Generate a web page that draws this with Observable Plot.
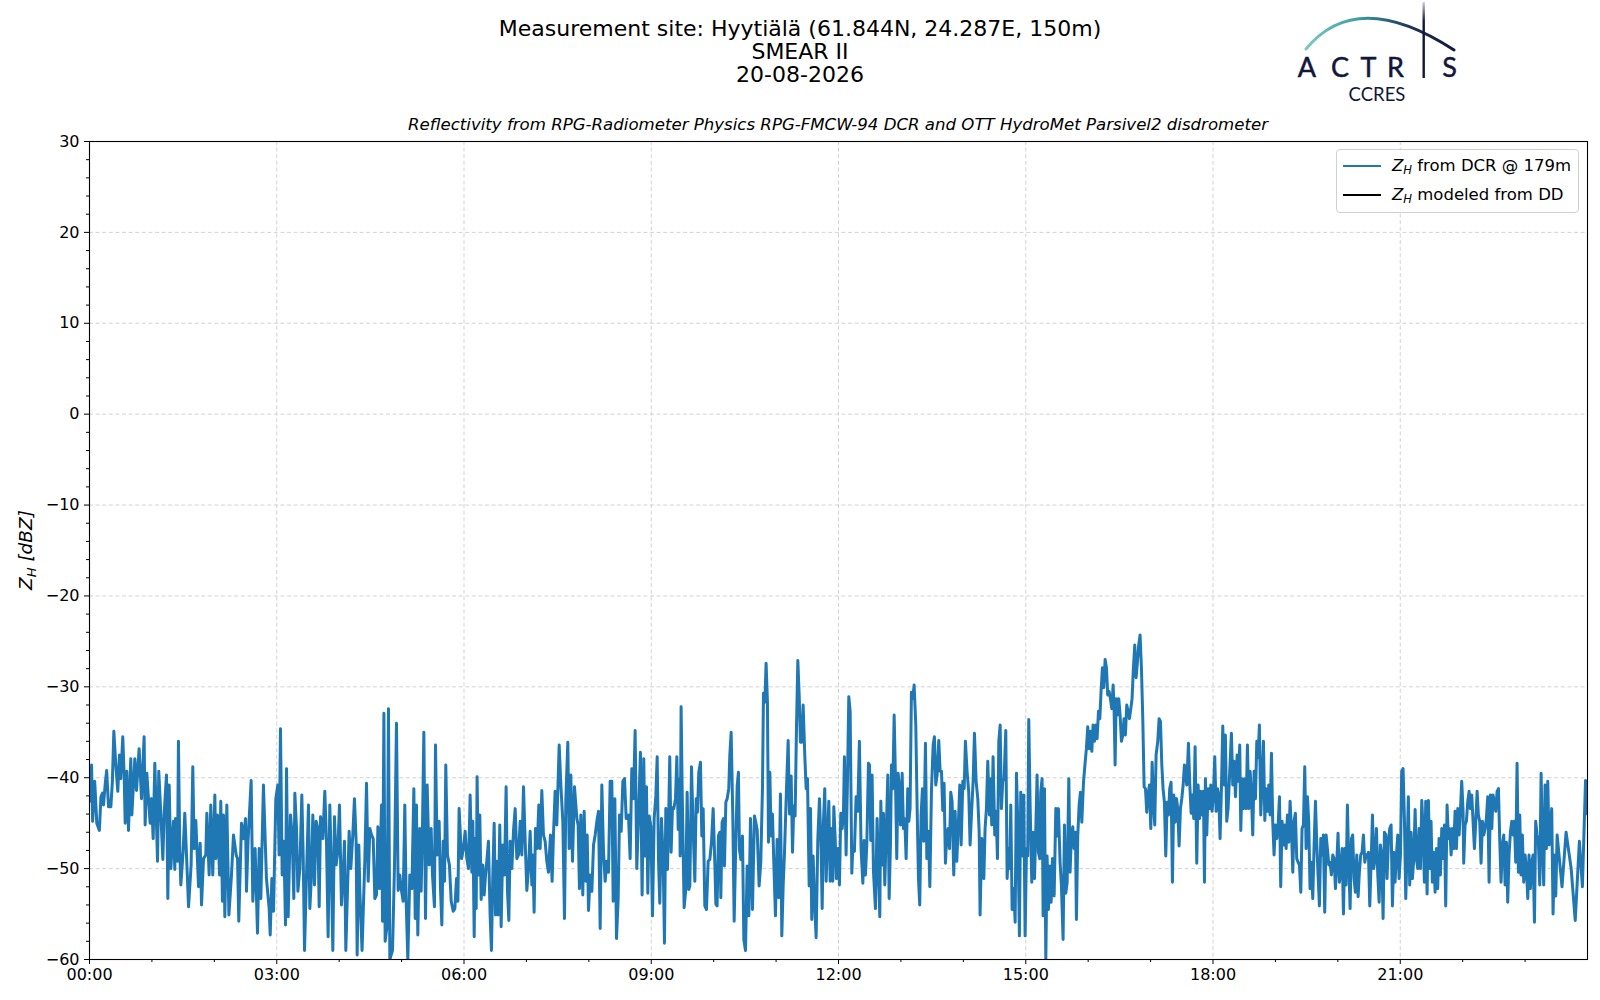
<!DOCTYPE html>
<html><head><meta charset="utf-8">
<script src="https://cdn.jsdelivr.net/npm/d3@7"></script>
<script src="https://cdn.jsdelivr.net/npm/@observablehq/plot@0.6"></script>
<style>
body{margin:0;background:#fff;font-family:"DejaVu Sans",sans-serif;color:#000;}
#wrap{position:relative;width:1600px;height:1000px;overflow:hidden;}
#wrap > svg.plot{position:absolute;left:0;top:0;}
#title{position:absolute;left:0;width:1600px;top:17px;text-align:center;font-size:22px;line-height:23px;}
#subtitle{position:absolute;left:89px;width:1498px;top:115px;text-align:center;font-size:16.6px;font-style:italic;line-height:20px;}
#legend{position:absolute;left:1336px;top:149px;width:241px;height:62px;border:1px solid #d0d0d0;border-radius:4px;background:rgba(255,255,255,0.85);font-size:16.5px;}
#legend .row{position:absolute;left:0;height:22px;line-height:22px;white-space:nowrap;}
#legend .swatch{position:absolute;left:6px;top:10px;width:38px;height:0;border-top:2.8px solid;}
#legend .lab{position:absolute;left:55px;top:0;}
sub{font-size:70%;vertical-align:-0.25em;line-height:0;}
#overlay{position:absolute;left:0;top:0;pointer-events:none;}
</style></head><body><div id="wrap"></div>
<script>
// Title texts
const titleLines = ["Measurement site: Hyytiälä (61.844N, 24.287E, 150m)", "SMEAR II", "20-08-2026"];
const subtitleText = "Reflectivity from RPG-Radiometer Physics RPG-FMCW-94 DCR and OTT HydroMet Parsivel2 disdrometer";
const legendLabels = ["from DCR @ 179m", "modeled from DD"];
const legendColors = ["#1f77b4", "#000000"];
// Axis ticks
const xTickLabels = ["00:00","03:00","06:00","09:00","12:00","15:00","18:00","21:00"];
const yTicks = [-60,-50,-40,-30,-20,-10,0,10,20,30];
// Z_H from DCR @ 179m : [minutes since 00:00, dBZ]
const dcrSamples = [
[0,-42.6],[2,-38.6],[3,-44.8],[5,-40.4],[7,-45.0],[9.5,-45.8],[11,-42.1],[12.5,-41.7],[13.5,-43.0],[15,-40.8],[16.5,-39.2],[18.3,-43.2],[20.5,-43.2],[22,-40.4],[23.4,-34.9],[25.3,-38.6],[27.2,-41.5],[28.8,-37.5],[30,-40.1],[32,-35.5],[33.3,-39.7],[34.3,-45.0],[35.9,-39.3],[37.5,-45.8],[39.7,-37.9],[40.7,-44.1],[43.6,-37.9],[45.2,-41.4],[47.7,-36.8],[50,-42.3],[52.5,-35.5],[53.5,-45.2],[55.1,-39.5],[56.7,-42.3],[58.3,-45.0],[59.6,-42.3],[61.2,-46.7],[62.8,-38.4],[64.1,-43.9],[65.4,-49.2],[66.6,-39.3],[68.6,-44.1],[70.5,-49.0],[71.8,-43.9],[74,-39.7],[75.3,-53.3],[76.6,-40.8],[78.2,-50.0],[80.7,-44.8],[82,-50.1],[82.7,-44.5],[84.6,-49.2],[85.5,-36.0],[86.8,-48.1],[87.8,-51.8],[90,-48.1],[91.6,-43.9],[93.5,-49.2],[95.2,-54.2],[97.7,-49.6],[99.3,-38.8],[100.6,-47.8],[102.2,-44.7],[104.8,-52.0],[106.4,-47.2],[107.7,-54.0],[109.6,-48.9],[111.8,-48.5],[112.8,-43.9],[115,-50.7],[116.6,-43.0],[118.5,-50.7],[120.5,-41.9],[121.4,-48.9],[123,-44.1],[125,-50.7],[126.2,-42.6],[127.8,-53.6],[128.8,-44.1],[130.1,-55.3],[132,-43.0],[134,-55.1],[136.5,-50.7],[138.4,-46.3],[141,-48.5],[142.3,-48.9],[143.5,-55.8],[146.1,-45.0],[148,-46.7],[150,-44.5],[150.9,-52.5],[152.5,-46.7],[155.4,-40.3],[157,-53.6],[159.2,-47.8],[161.5,-57.1],[163.1,-47.8],[164.7,-53.3],[167.2,-40.8],[170.1,-51.1],[172.7,-54.4],[173.7,-57.3],[175.3,-51.1],[176.9,-54.7],[179.1,-42.3],
[181,-40.8],[182.3,-48.5],[183.6,-34.6],[185.2,-50.7],[186.8,-47.0],[188.4,-56.2],[189.4,-39.0],[191,-55.3],[193.2,-44.1],[194.8,-46.3],[196.4,-53.3],[197.4,-41.7],[199,-45.6],[200.3,-52.5],[202.2,-50.0],[204.1,-41.9],[205.4,-48.5],[206.7,-59],[208.6,-50.7],[210.5,-43.0],[211.8,-54.4],[213.1,-51.4],[214.7,-44.1],[216.3,-51.8],[217.9,-44.8],[219.5,-45.6],[220.8,-54.2],[222.1,-44.3],[224.3,-46.7],[226.2,-41.5],[227.8,-47.0],[229.4,-57.5],[231,-43.0],[232.3,-48.9],[233.9,-59],[235.5,-44.3],[237.1,-49.6],[238.7,-48.1],[240.3,-43.0],[242.2,-54.0],[243.8,-50.7],[245.1,-47.0],[246.4,-59],[249.6,-45.9],[251.2,-50.0],[253.1,-46.3],[254.7,-42.3],[256.3,-47.0],[257.3,-59.5],[258.9,-47.4],[259.9,-52.5],[262,-59],[264.7,-48.9],[266.3,-40.6],[267.9,-51.4],[269.5,-45.6],[271.1,-46.3],[272.7,-46.7],[274.3,-53.3],[275.9,-52.9],[277.2,-45.4],[278.8,-52.2],[280.7,-43.0],[281.7,-55.8],[283,-32.9],[284.2,-58],[286.1,-56.2],[287.4,-32.4],[288.7,-60],[291.3,-59],[293.2,-49.6],[295.1,-34.0],[296.7,-52.4],[298.3,-50.7],[299.6,-52.2],[301.5,-53.6],[303.1,-43.0],[304.4,-53.6],[306,-60],[307.9,-50.7],[309.9,-52.2],[311.8,-41.2],[313.1,-55.5],[314.3,-43.0],[315.6,-57.3],[317.5,-45.6],[318.8,-52.5],[320.1,-45.2],[321.4,-35.0],[323,-55.5],[324.6,-40.8],[326.5,-49.6],[328.4,-45.6],[329.7,-50.7],[331.6,-54.2],[332.6,-36.4],[334.2,-48.5],[336.1,-44.8],[337.4,-52.2],[338.7,-56.2],[340,-47.0],[341.3,-51.4],[342.5,-38.6],[344.1,-48.5],[346,-49.6],[347.7,-53.6],[349.6,-54.7],[351.2,-54.4],[352.8,-51.1],[354.1,-53.6],[355.3,-43.4],
[357.6,-48.9],[359.5,-47.8],[361.1,-45.9],[362.7,-48.9],[364.3,-50.0],[365.9,-41.9],[367.5,-50.4],[368.5,-44.8],[369.8,-57.5],[370.7,-46.7],[371.7,-54.4],[372.6,-39.9],[373.9,-50.7],[375.2,-44.1],[376.5,-53.4],[378.1,-49.6],[379.4,-52.9],[380.7,-50.7],[381.9,-49.2],[383.5,-47.0],[385.1,-55.1],[386.4,-59],[387.7,-50.7],[389,-45.0],[390.3,-55.1],[391.6,-49.2],[392.8,-55.1],[394.4,-45.2],[395.7,-56.4],[397.3,-47.4],[398.9,-50.7],[400.5,-41.0],[401.8,-52.5],[403.1,-55.7],[404.4,-47.0],[406,-50.0],[407.6,-45.8],[409.2,-43.4],[410.8,-48.9],[412.4,-48.5],[414,-44.8],[415.6,-48.5],[417.2,-41.0],[418.8,-47.0],[420.4,-52.4],[422,-50.0],[423.6,-45.9],[425.2,-51.8],[426.2,-48.5],[427.4,-54.8],[428.7,-45.6],[430.3,-47.8],[431.9,-43.0],[433.2,-47.8],[434.8,-41.4],[436.4,-46.3],[438,-47.0],[439.6,-49.2],[441.2,-50.4],[443.1,-46.3],[444.7,-51.4],[446,-46.3],[447.6,-41.5],[449.2,-45.2],[451.5,-36.4],[453.1,-40.8],[455,-44.8],[456.6,-55.5],[457.9,-42.3],[459.8,-36.1],[461.1,-47.8],[462.7,-39.7],[464.3,-49.2],[466.2,-41.0],[468.5,-44.5],[469.7,-45.2],[471,-52.2],[472.3,-44.1],[474.2,-52.9],[475.5,-43.7],[477.1,-51.4],[478.4,-46.3],[479.7,-54.6],[481.3,-50.7],[482.9,-52.5],[484.5,-47.4],[486.1,-46.3],[487.7,-44.8],[489.3,-43.7],[490.9,-56.6],[492.5,-40.8],[494.1,-48.1],[495.7,-51.4],[497.3,-49.2],[498.9,-50.4],[500.5,-40.4],[502.1,-40.4],[503.4,-53.6],[505,-42.3],[506.6,-57.7],[508.2,-53.3],[509.5,-44.1],[511.1,-45.9],[512.7,-40.4],[514.3,-40.1],[515.9,-44.5],[518.1,-44.1],[519.7,-48.9],[521.3,-39.0],[522.9,-42.3],[524.5,-34.8],[526.1,-50.0],[528,-43.4],[529.6,-37.2],[531.2,-52.9],
[532.8,-37.9],[534.1,-48.6],[535.4,-41.0],[536.7,-52.7],[538,-44.2],[539.6,-45.3],[541.2,-55.2],[542.8,-44.5],[544.4,-42.0],[545.7,-37.7],[547,-49.2],[548.2,-53.8],[549.8,-44.5],[551.4,-48.6],[552.7,-58.2],[554,-43.4],[555.6,-50.1],[556.9,-43.4],[557.8,-37.7],[559.1,-48.2],[560.4,-43.3],[561.7,-43.4],[563.3,-42.3],[564.6,-37.7],[565.9,-45.7],[567.1,-40.1],[567.8,-48.6],[568.7,-32.2],[569.7,-41.2],[571.6,-54.3],[573.2,-52.3],[574.5,-41.6],[576.1,-52.3],[577.1,-51.9],[578.7,-38.8],[580.3,-45.7],[581.9,-51.4],[583.2,-42.3],[584.4,-43.8],[585.7,-39.4],[587.3,-38.3],[588.6,-46.4],[589.9,-43.4],[591.5,-54.1],[593.1,-54.5],[594.7,-49.2],[596.3,-49.0],[597.9,-47.1],[599.5,-43.4],[601.1,-49.3],[602.1,-53.9],[603.3,-54.1],[604.6,-46.4],[605.9,-46.0],[606.9,-53.2],[608.1,-44.9],[609.4,-44.5],[610.4,-49.7],[611.7,-42.7],[613,-42.3],[614.5,-41.2],[615.5,-37.6],[616.8,-35.0],[618.4,-44.2],[619.7,-55.8],[621.3,-47.1],[622.6,-40.9],[623.8,-39.4],[624.8,-47.9],[626.1,-49.0],[627.7,-46.4],[629,-57.8],[630.6,-59],[632.2,-49.7],[633.8,-55.2],[635.4,-44.5],[637.3,-54.5],[639.2,-44.2],[640.5,-44.9],[641.8,-45.7],[643.7,-51.9],[645.3,-49.3],[646.9,-41.2],[647.9,-30.7],[649.2,-31.7],[650.4,-27.4],[651.7,-31.7],[652.7,-47.1],[654,-39.4],[655.2,-46.4],[656.5,-44.0],[657.8,-49.3],[659.4,-55.2],[661,-46.8],[662.6,-53.2],[664.2,-41.8],[665.5,-57.4],[666.8,-51.9],[668.1,-48.2],[670,-41.2],[671.6,-35.9],[672.9,-44.0],[674.5,-39.8],[675.8,-48.2],[677,-43.1],[678.3,-44.2],[679.6,-34.6],[680.9,-27.1],[682.2,-30.9],[683.4,-36.1],[684.7,-36.1],[686,-32.0],[687.6,-37.6],[688.9,-41.2],[690.2,-40.1],[691.8,-51.9],[693.1,-43.4],[694.3,-55.6],[695.6,-48.6],[696.9,-53.4],[698.5,-57.6],[700.1,-46.8],
[701.7,-42.3],[703.3,-47.8],[704.3,-54.4],[705.5,-45.0],[706.8,-41.2],[708.1,-51.4],[709.4,-46.7],[710.7,-42.6],[712,-51.4],[713.2,-45.6],[714.5,-51.4],[715.5,-43.2],[716.8,-46.7],[718,-51.1],[719.6,-47.8],[720.9,-51.8],[722.2,-43.9],[723.5,-45.6],[724.8,-43.7],[725.7,-37.7],[727.3,-48.5],[728.6,-40.4],[729.9,-31.1],[731.2,-32.7],[732.8,-50.5],[733.7,-47.8],[735.3,-48.1],[736.9,-42.1],[738.5,-43.7],[740.1,-36.0],[741.7,-47.8],[743.4,-51.6],[744.6,-46.9],[745.9,-50.7],[747.2,-47.4],[748.8,-38.4],[749.8,-38.6],[751,-46.9],[752.3,-39.7],[753.6,-50.3],[755.5,-54.4],[757.1,-44.5],[758.4,-50.0],[759.7,-55.3],[760.7,-42.6],[761.9,-49.6],[763.2,-43.9],[764.5,-51.8],[765.8,-46.3],[767.4,-39.7],[768.7,-53.3],[770,-47.0],[770.9,-38.6],[772.2,-41.2],[773.5,-33.1],[774.8,-40.4],[776,-48.9],[777.3,-39.5],[778.6,-41.2],[779.6,-45.2],[781.2,-39.5],[782.4,-45.6],[783.7,-44.5],[785,-48.9],[786.6,-41.2],[787.6,-44.8],[788.8,-43.4],[790.1,-30.6],[791.4,-31.3],[792.7,-29.8],[794.3,-34.2],[795.6,-43.4],[796.9,-51.2],[798.1,-54.0],[799.4,-44.1],[800.7,-41.2],[802,-47.0],[803.6,-36.2],[804.9,-48.9],[806.5,-45.9],[807.8,-52.0],[809.4,-41.2],[811,-36.4],[812.2,-35.5],[813.5,-40.8],[814.8,-39.7],[816.4,-35.9],[817.7,-39.3],[819,-39.3],[820.2,-43.6],[821.5,-40.6],[822.8,-49.4],[824.1,-46.3],[825.4,-45.6],[826.7,-47.8],[827.9,-41.6],[829.2,-42.6],[830.8,-50.7],[832.1,-43.7],[833.7,-49.2],[835.3,-44.8],[836.6,-40.8],[837.9,-47.4],[839.5,-40.4],[840.8,-41.2],[842,-36.0],[843.6,-39.3],[845.2,-41.6],[846.5,-47.4],[847.8,-44.1],[849.4,-40.4],[850.7,-35.1],[852.3,-40.4],[853.9,-42.3],[855.2,-45.9],[856.1,-55.1],[857.7,-46.7],[859.7,-51.1],[860.9,-45.6],[862.2,-43.4],[863.5,-38.2],[865.1,-44.1],[866.4,-40.1],[867.3,-45.2],[868.6,-37.7],[870.2,-46.3],[871.5,-43.7],[872.8,-48.9],[874.1,-36.0],[875.4,-34.2],[876.6,-43.4],[877.9,-40.4],
[879.2,-40.1],[880.8,-34.8],[882.1,-51.1],[883.4,-47.8],[884.6,-50.0],[885.6,-43.0],[886.9,-54.5],[888.5,-52.2],[889.8,-55.9],[891.1,-39.5],[892.3,-44.9],[893.9,-57.4],[895.2,-41.6],[896.8,-48.6],[898.1,-41.9],[899.4,-57.4],[900.7,-47.8],[901.9,-48.6],[902.9,-33.6],[904.2,-43.0],[905.8,-51.5],[907.1,-46.0],[908.4,-51.1],[909.6,-46.0],[910.9,-39.7],[912.2,-48.2],[913.5,-48.9],[914.4,-41.6],[915.7,-40.1],[916.7,-55.2],[918,-41.2],[919.3,-60],[920.5,-48.6],[921.8,-54.5],[923.1,-49.7],[924.4,-53.7],[925.7,-48.9],[927.3,-53.0],[928.9,-43.4],[930.1,-46.4],[931.4,-43.4],[933,-49.3],[934.3,-51.9],[935.9,-57.8],[937.2,-45.2],[938.5,-52.7],[939.8,-51.5],[941.4,-40.1],[942.6,-50.4],[943.9,-46.4],[945.2,-45.4],[946.5,-47.8],[947.8,-46.0],[948.7,-55.6],[950,-46.4],[951.3,-43.0],[952.6,-41.6],[953.9,-44.9],[955.5,-40.5],[957.1,-38.3],[958.3,-36.8],[959.6,-34.4],[960.9,-36.8],[962.2,-34.9],[963.5,-37.1],[964.7,-34.2],[966,-36.0],[967.3,-34.2],[968.6,-35.7],[969.9,-32.7],[971.2,-33.5],[972.4,-30.5],[973.7,-27.9],[975,-30.1],[976.3,-27.0],[977.6,-27.9],[978.8,-30.9],[980.1,-30.5],[981.4,-31.3],[982.7,-32.4],[984,-29.8],[984.9,-32.4],[985.9,-38.6],[986.9,-31.3],[988.1,-33.1],[989.4,-31.3],[990.7,-33.1],[992,-36.0],[993.3,-35.3],[994.5,-33.5],[995.8,-35.3],[997.1,-32.0],[998.4,-32.7],[999.7,-33.5],[1001,-32.4],[1002.2,-31.3],[1003.5,-27.9],[1004.8,-25.4],[1006.1,-29.0],[1007.4,-27.2],[1008.6,-25.4],[1009.9,-24.3],[1011.2,-27.9],[1012.5,-33.5],[1013.8,-41.0],[1015.1,-41.2],[1016.3,-43.8],[1017.6,-41.9],[1018.9,-40.8],[1020.2,-45.6],[1021.5,-38.3],[1022.7,-42.7],[1024,-45.2],[1025.3,-37.5],[1026.9,-36.0],[1028.2,-33.5],[1029.5,-33.8],[1030.8,-38.6],[1032,-41.2],[1033.3,-42.7],[1034.6,-48.6],[1035.9,-42.7],[1037.2,-44.1],[1038.4,-41.2],[1039.7,-40.5],[1041,-51.5],[1042.3,-41.9],[1043.6,-44.9],[1044.9,-42.3],[1046.1,-43.4],[1047.4,-47.5],[1048.7,-43.4],[1050,-42.3],[1051.3,-40.8],[1052.5,-38.6],
[1054.8,-40.8],[1056.4,-36.2],[1057.7,-40.8],[1059,-43.9],[1060.2,-41.9],[1061.5,-44.5],[1062.8,-36.6],[1064.4,-49.4],[1065.7,-40.8],[1067,-44.5],[1068.2,-41.5],[1069.5,-44.1],[1070.8,-41.5],[1071.8,-51.5],[1072.7,-40.1],[1074,-46.3],[1075.3,-41.2],[1076.6,-43.4],[1077.9,-40.8],[1079.1,-43.7],[1080.4,-41.9],[1081.7,-37.7],[1083,-43.7],[1084.3,-41.2],[1085.5,-41.9],[1086.8,-46.7],[1088.1,-41.2],[1089.4,-34.3],[1090.7,-40.8],[1091.9,-35.3],[1093.2,-44.8],[1094.5,-43.4],[1096.1,-39.3],[1097.7,-35.1],[1099,-40.8],[1100.3,-38.2],[1101.6,-42.1],[1103.2,-37.5],[1104.4,-40.4],[1105.7,-36.4],[1106.7,-45.8],[1108,-40.1],[1109.2,-43.4],[1110.5,-40.1],[1111.8,-43.4],[1113.1,-36.4],[1114.4,-43.4],[1115.7,-39.3],[1116.9,-41.9],[1118.2,-46.3],[1119.5,-39.3],[1120.8,-42.3],[1122.1,-36.0],[1123.3,-37.8],[1124.6,-34.2],[1125.9,-44.1],[1127.2,-40.4],[1128.5,-36.0],[1129.8,-44.7],[1131,-41.2],[1132.3,-43.7],[1133.6,-40.8],[1134.9,-44.1],[1136.2,-37.3],[1137.4,-44.8],[1138.7,-48.5],[1140,-45.2],[1141.3,-46.7],[1142.6,-45.2],[1143.9,-42.1],[1145.1,-52.0],[1146.4,-44.8],[1147.7,-47.4],[1149,-45.2],[1150.3,-47.8],[1151.5,-44.1],[1152.8,-47.1],[1154.1,-42.6],[1155.4,-45.6],[1156.7,-50.4],[1157.9,-44.8],[1159.2,-43.9],[1160.5,-48.9],[1161.8,-49.3],[1163.1,-49.6],[1164.4,-52.6],[1165.6,-45.6],[1166.9,-45.2],[1168.2,-38.8],[1169.5,-47.8],[1170.8,-42.1],[1172,-44.8],[1173.3,-52.2],[1174.6,-49.3],[1175.9,-53.3],[1177.2,-47.4],[1178.5,-42.6],[1179.7,-47.1],[1181,-50.7],[1182.3,-54.1],[1183.6,-46.7],[1184.9,-48.5],[1186.1,-46.3],[1187.4,-54.8],[1188.7,-46.3],[1190,-47.8],[1191.3,-49.6],[1192.6,-49.3],[1193.8,-50.7],[1195.1,-48.5],[1196.4,-48.9],[1197.7,-52.2],[1199,-49.3],[1200.2,-46.1],[1201.5,-51.5],[1202.8,-50.0],[1204.1,-47.8],[1205.4,-55.0],[1206.7,-47.8],[1207.9,-51.8],[1209.2,-43.0],[1210.5,-49.3],[1211.8,-54.4],[1213.1,-46.7],[1214.3,-46.3],[1215.6,-51.1],[1216.9,-52.6],[1218.2,-48.5],[1219.5,-53.1],[1220.7,-50.4],[1222,-48.5],[1223.3,-48.2],[1224.6,-46.3],[1225.9,-49.3],[1227.2,-48.5],[1228.4,-48.5],
[1229.4,-48.2],[1230.7,-54.1],[1232,-49.3],[1233.3,-44.1],[1234.5,-50.0],[1235.8,-48.9],[1237.1,-45.6],[1238.4,-50.7],[1239.7,-53.7],[1240.9,-47.4],[1242.2,-48.5],[1243.5,-55.5],[1244.8,-46.0],[1246.1,-46.3],[1247.3,-51.1],[1248.6,-47.1],[1249.9,-45.6],[1251.2,-45.2],[1252.5,-54.1],[1253.8,-48.2],[1255,-51.5],[1256.3,-48.5],[1257.6,-46.3],[1258.9,-51.1],[1260.2,-48.5],[1261.4,-39.3],[1262.7,-39.0],[1264,-44.5],[1265.3,-53.3],[1266.6,-47.8],[1267.8,-42.1],[1269.1,-51.8],[1270.4,-46.0],[1271.7,-51.1],[1273,-48.9],[1274.3,-43.5],[1275.5,-48.9],[1276.8,-50.0],[1278.1,-45.6],[1279.4,-50.0],[1280.7,-42.5],[1281.9,-45.6],[1283.2,-51.5],[1284.5,-42.6],[1285.8,-52.8],[1287.1,-42.5],[1288.4,-50.0],[1289.6,-44.8],[1290.9,-51.5],[1292.2,-48.2],[1293.5,-52.6],[1294.8,-47.8],[1296,-52.2],[1297.3,-46.7],[1298.6,-50.7],[1299.9,-45.6],[1301.2,-48.9],[1302.5,-45.2],[1303.7,-54.1],[1305,-43.0],[1306.3,-46.7],[1307.6,-45.6],[1308.9,-48.5],[1310.1,-45.6],[1311.4,-47.8],[1312.7,-43.7],[1314,-47.8],[1315.3,-43.4],[1316.6,-46.3],[1317.8,-43.7],[1319.1,-40.4],[1320.4,-43.7],[1321,-49.4],[1322.3,-45.2],[1323.6,-44.8],[1324.9,-42.6],[1326.2,-41.5],[1327.4,-43.4],[1328.7,-41.9],[1330,-44.8],[1331.3,-47.8],[1332.6,-44.8],[1333.9,-41.5],[1335.1,-44.1],[1336.4,-44.8],[1337.7,-49.4],[1339,-44.8],[1340.3,-46.3],[1341.5,-45.6],[1342.8,-44.5],[1344.1,-42.1],[1345.4,-51.5],[1346.7,-41.9],[1348,-45.6],[1349.2,-41.9],[1350.5,-42.6],[1351.8,-43.7],[1353.1,-41.5],[1354.4,-41.2],[1355.6,-46.7],[1356.9,-51.5],[1358.2,-47.4],[1359.5,-46.3],[1360.8,-51.8],[1362.1,-47.1],[1363.3,-53.7],[1364.6,-48.5],[1365.9,-46.0],[1367.2,-44.8],[1368.5,-46.3],[1369.7,-44.8],[1371,-49.3],[1372.3,-38.4],[1373.6,-50.4],[1374.9,-44.1],[1376.1,-50.7],[1377.4,-46.3],[1378.7,-51.5],[1380,-48.5],[1381.3,-50.0],[1382.6,-53.3],[1383.8,-48.5],[1385.1,-52.2],[1386.4,-49.3],[1387.7,-48.5],[1389,-55.9],[1390.2,-44.8],[1391.5,-46.3],[1392.8,-47.1],[1394.1,-51.8],[1395.4,-39.5],[1396.7,-47.8],[1397.9,-51.8],[1399.2,-40.8],[1400.5,-47.8],[1401.8,-40.4],[1403.1,-47.4],[1404.4,-45.6],[1405.6,-43.4],[1406.9,-55.0],[1408.2,-48.5],[1409.5,-53.0],[1410.8,-46.3],
[1415.5,-52.0],[1419.4,-46.0],[1424.3,-50.0],[1428.2,-55.7],[1432.2,-47.0],[1435.1,-52.0],[1438.1,-40.3],[1440,-44.0]
];
// Z_H modeled from DD : no samples on this day
const ddSamples = [];

const data = dcrSamples.map(([t, z]) => ({t, z}));
const xMajor = xTickLabels.map(s => +s.slice(0, 2) * 60);
const xMinor = d3.range(0, 24).map(h => h * 60).filter(m => !xMajor.includes(m));
const yMinor = d3.range(-60, 31, 2).filter(v => !yTicks.includes(v));
const xGrid = xMajor.filter(m => m > 0);
const yGrid = yTicks.filter(v => v > -60 && v < 30);
const gridStyle = {stroke: "#d3d3d3", strokeWidth: 1, strokeDasharray: "4,2.6"};

const plot = Plot.plot({
  width: 1600, height: 1000,
  marginLeft: 89, marginRight: 13, marginTop: 141, marginBottom: 41,
  style: {fontFamily: "DejaVu Sans, sans-serif", fontSize: "16px", color: "#000", background: "transparent", overflow: "visible"},
  x: {domain: [0, 1440]},
  y: {domain: [-60, 30]},
  marks: [
    Plot.ruleX(xGrid, {x: d => d, ...gridStyle}),
    Plot.ruleY(yGrid, {y: d => d, ...gridStyle}),
    Plot.line(data, {x: "t", y: "z", stroke: legendColors[0], strokeWidth: 3, strokeLinejoin: "round", clip: true}),
    Plot.line(ddSamples, {x: "t", y: "z", stroke: legendColors[1], strokeWidth: 2}),
    Plot.frame({stroke: "#000", strokeWidth: 1.1}),
    Plot.axisX({ticks: xMajor, tickFormat: d => xTickLabels[xMajor.indexOf(d)], tickSize: 5, tickPadding: 4, label: null, fontSize: 16}),
    Plot.axisX({ticks: xMinor, tickFormat: () => "", tickSize: 3, label: null}),
    Plot.axisY({ticks: yTicks, tickFormat: d3.format("d"), tickSize: 5, tickPadding: 5, label: null, fontSize: 16}),
    Plot.axisY({ticks: yMinor, tickFormat: () => "", tickSize: 3, label: null})
  ]
});
plot.classList.add("plot");
const wrap = document.getElementById("wrap");
wrap.appendChild(plot);

// Titles
const t = document.createElement("div");
t.id = "title";
t.innerHTML = titleLines.map(s => `<div>${s}</div>`).join("");
wrap.appendChild(t);
const st = document.createElement("div");
st.id = "subtitle";
st.textContent = subtitleText;
wrap.appendChild(st);

// Legend
const lg = document.createElement("div");
lg.id = "legend";
lg.innerHTML = legendLabels.map((l, i) =>
  `<div class="row" style="top:${5 + i * 29}px;width:239px"><span class="swatch" style="border-color:${legendColors[i]}"></span><span class="lab"><i>Z</i><sub><i>H</i></sub> ${l}</span></div>`
).join("");
wrap.appendChild(lg);

// Y label + ACTRIS logo overlay
const ns = "http://www.w3.org/2000/svg";
const ov = document.createElementNS(ns, "svg");
ov.setAttribute("id", "overlay");
ov.setAttribute("width", 1600);
ov.setAttribute("height", 1000);
ov.innerHTML = `
<defs>
  <linearGradient id="arcg" gradientUnits="userSpaceOnUse" x1="1306" y1="0" x2="1455" y2="0">
    <stop offset="0" stop-color="#7cc9c4"/>
    <stop offset="0.35" stop-color="#3d9ea6"/>
    <stop offset="0.7" stop-color="#1d3552"/>
    <stop offset="1" stop-color="#12173a"/>
  </linearGradient>
  <linearGradient id="ig" x1="0" y1="0" x2="0" y2="1">
    <stop offset="0" stop-color="#12173a" stop-opacity="0.2"/>
    <stop offset="0.25" stop-color="#12173a" stop-opacity="1"/>
    <stop offset="1" stop-color="#12173a" stop-opacity="1"/>
  </linearGradient>
</defs>
<text transform="translate(32,550) rotate(-90)" text-anchor="middle" font-family="DejaVu Sans" font-size="18.5" font-style="italic">Z<tspan font-size="13" dy="4">H</tspan><tspan dy="-4"> [dBZ]</tspan></text>
<path d="M1306,49 Q1357,-13 1454,50" fill="none" stroke="url(#arcg)" stroke-width="3" stroke-linecap="round"/>
<rect x="1422.5" y="2" width="2.4" height="76" fill="url(#ig)"/>
<g font-family="Lato, 'Open Sans', sans-serif" font-size="27" fill="#12173a" stroke="#12173a" stroke-width="0.5" text-anchor="middle">
  <text x="1307" y="76.5">A</text>
  <text x="1340" y="76.5">C</text>
  <text x="1368.5" y="76.5">T</text>
  <text x="1395.5" y="76.5">R</text>
  <text x="1449.5" y="76.5">S</text>
</g>
<text x="1377" y="100.5" text-anchor="middle" font-family="Lato, 'Open Sans', sans-serif" font-size="18.5" fill="#12173a">CCRES</text>
`;
wrap.appendChild(ov);
</script></body></html>
